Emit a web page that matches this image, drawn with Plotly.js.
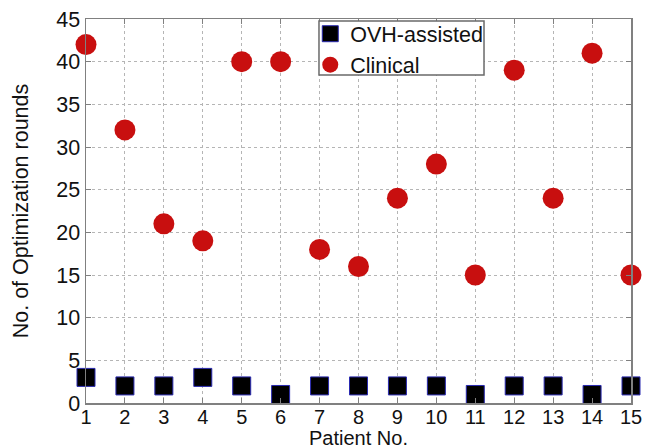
<!DOCTYPE html>
<html>
<head>
<meta charset="utf-8">
<script src="https://cdn.plot.ly/plotly-3.0.1.min.js"></script>
<style>html,body{margin:0;padding:0;background:#fff;}#chart{width:645px;height:445px;}</style>
</head>
<body>
<div id="chart"></div>
<script>
const patients = [1,2,3,4,5,6,7,8,9,10,11,12,13,14,15];
const ovhAssisted = [3,2,2,3,2,1,2,2,2,2,1,2,2,1,2];
const clinical = [42,32,21,19,40,40,18,16,24,28,15,39,24,41,15];
const xTicks = [1,2,3,4,5,6,7,8,9,10,11,12,13,14,15];
const yTicks = [0,5,10,15,20,25,30,35,40,45];
const xTitle = 'Patient No.';
const yTitle = 'No. of Optimization rounds';

const font = 'Liberation Sans, Arial, sans-serif';
const fs = 21.5;

const traces = [
  {
    x: patients, y: ovhAssisted, name: 'OVH-assisted', type: 'scatter', mode: 'markers',
    cliponaxis: false,
    marker: {symbol: 'square', size: 18, color: '#000000', line: {color: '#2a2ab0', width: 1}}
  },
  {
    x: patients, y: clinical, name: 'Clinical', type: 'scatter', mode: 'markers',
    cliponaxis: false,
    marker: {symbol: 'circle', size: 21, color: '#c80f0f', line: {width: 0}}
  }
];

const axisCommon = {
  showline: true, mirror: 'ticks', linecolor: '#808080', linewidth: 1.5,
  ticks: 'inside', ticklen: 5, tickcolor: '#808080',
  showgrid: true, gridcolor: '#b5b5b5', griddash: 'dot', gridwidth: 1,
  zeroline: false,
  tickfont: {family: font, size: fs, color: '#111'}
};

const layout = {
  width: 645, height: 445,
  margin: {l: 86, r: 14, t: 19, b: 42},
  paper_bgcolor: '#fff', plot_bgcolor: '#fff',
  showlegend: true,
  legend: {
    x: 0.4115, y: 1.015, xanchor: 'left', yanchor: 'top',
    bgcolor: 'rgba(0,0,0,0)', borderwidth: 0,
    font: {family: font, size: fs, color: '#111'},
    tracegroupgap: 0, itemwidth: 30
  },
  shapes: [{
    type: 'rect', xref: 'paper', yref: 'paper', layer: 'above',
    x0: 0.4275, x1: 0.7303, y0: 0.8542, y1: 0.9948,
    fillcolor: '#ffffff', line: {color: '#6a6a6a', width: 1.5}
  }],
  annotations: [{
    text: xTitle, xref: 'paper', yref: 'paper', x: 0.5, y: 0,
    xanchor: 'center', yanchor: 'top', yshift: -23, showarrow: false,
    borderpad: 0,
    font: {family: font, size: 20, color: '#111'}
  }],
  xaxis: Object.assign({}, axisCommon, {
    range: [1, 15], tickmode: 'array', tickvals: xTicks, ticktext: xTicks.map(String),
    tickfont: {family: font, size: 20, color: '#111'},
    ticklabelstandoff: -5
  }),
  yaxis: Object.assign({}, axisCommon, {
    range: [0, 45], tickmode: 'array', tickvals: yTicks, ticktext: yTicks.map(String),
    title: {text: yTitle, font: {family: font, size: fs, color: '#111'}, standoff: 22}
  })
};

Plotly.newPlot('chart', traces, layout, {displayModeBar: false, staticPlot: true});
</script>
</body>
</html>
